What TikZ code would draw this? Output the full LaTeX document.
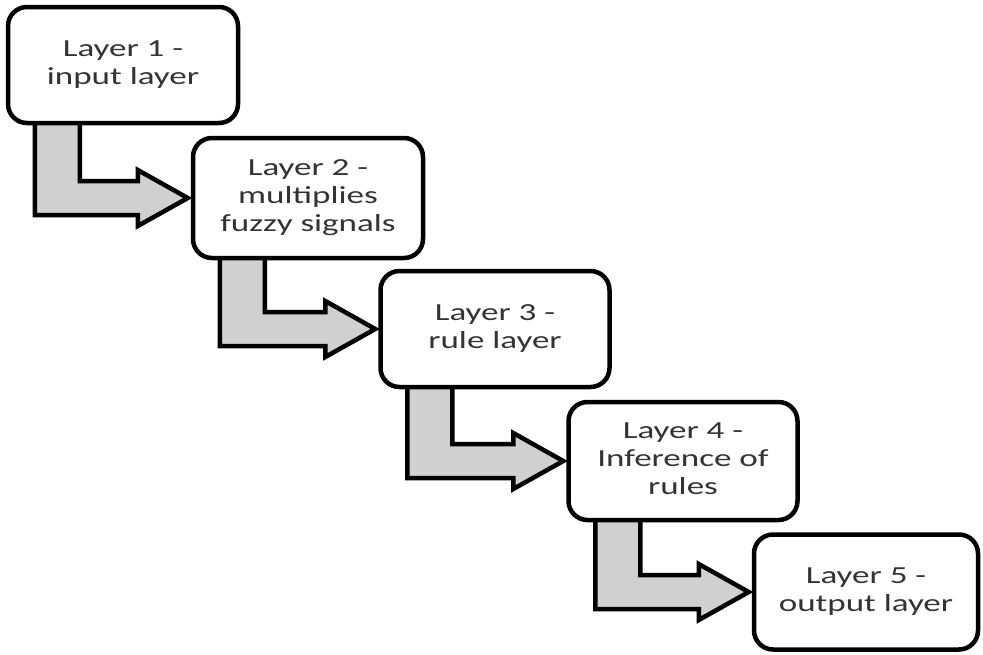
\documentclass[tikz,border=0pt]{standalone}
\usepackage{fontspec}
\setmainfont{Carlito}
\usetikzlibrary{calc}
\pgfdeclarelayer{background}
\pgfsetlayers{background,main}
\definecolor{arrowgray}{HTML}{D0D0D0}
\newcommand{\boxtext}[1]{\scalebox{1.43}[1]{\fontsize{24.5}{28}\selectfont\begin{tabular}{@{}c@{}}#1\end{tabular}}}
\newcommand{\bendarrow}[2]{%
  \draw[flowarrow] ($(#1.south west)+(29,-10)$) |- ($(#2.west)+(-53,17)$) -- ++(0,11)
    -- ($(#2.west)+(-3,0)$) -- ($(#2.west)+(-53,-28)$) -- ++(0,11)
    -| ($(#1.south west)+(74,-10)$) -- cycle;}
\begin{document}
\begin{tikzpicture}[x=1pt,y=-1pt,
  layerbox/.style={draw=black, line width=4.5pt, fill=white, rounded corners=19pt,
    rectangle, inner sep=0pt, text=black!80},
  flowarrow/.style={draw=black, line width=4.5pt, fill=arrowgray, line join=miter}]
\useasboundingbox (0,0) rectangle (983,654);
\node[layerbox, minimum width=230pt, minimum height=116pt] (l1) at (123,65) {\boxtext{Layer 1 -\\input layer}};
\node[layerbox, minimum width=230pt, minimum height=120pt] (l2) at (308,198) {\boxtext{Layer 2 -\\multiplies\\fuzzy signals}};
\node[layerbox, minimum width=229pt, minimum height=116pt] (l3) at (495,329) {\boxtext{Layer 3 -\\rule layer}};
\node[layerbox, minimum width=229pt, minimum height=118pt] (l4) at (683,461) {\boxtext{Layer 4 -\\Inference of\\rules}};
\node[layerbox, minimum width=224pt, minimum height=115pt] (l5) at (866,592) {\boxtext{Layer 5 -\\output layer}};
\begin{pgfonlayer}{background}
\fill[white] (0,0) rectangle (983,654);
\bendarrow{l1}{l2}
\bendarrow{l2}{l3}
\bendarrow{l3}{l4}
\bendarrow{l4}{l5}
\end{pgfonlayer}
\end{tikzpicture}
\end{document}
